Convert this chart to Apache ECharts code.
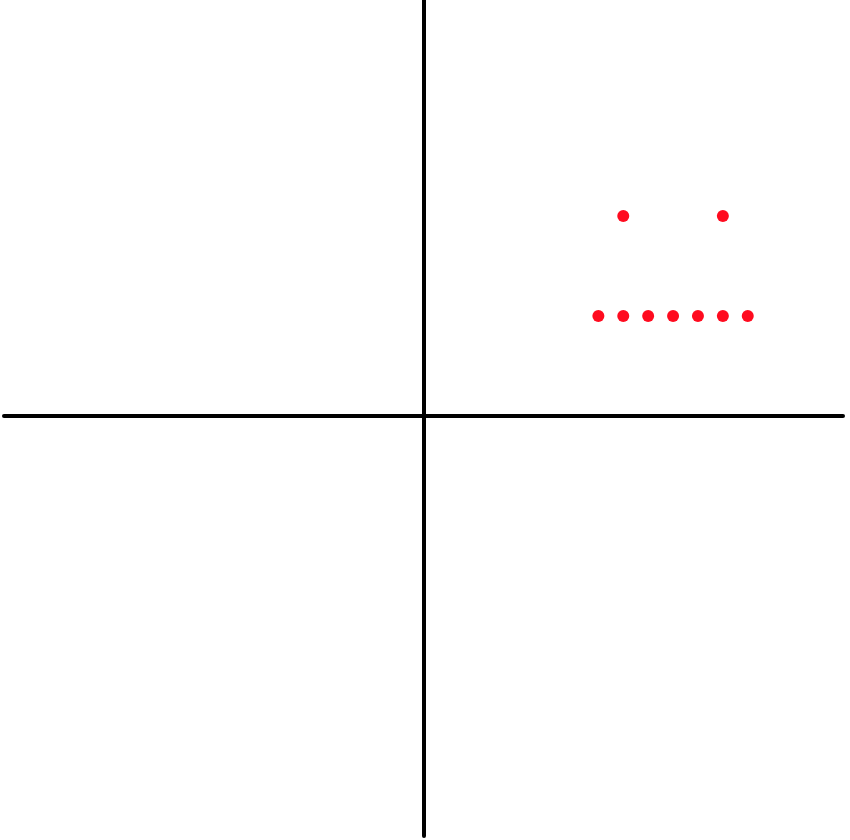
<!DOCTYPE html>
<html>
<head>
<meta charset="utf-8">
<script src="https://cdn.jsdelivr.net/npm/echarts@6/dist/echarts.min.js"></script>
<style>html,body{margin:0;padding:0;background:#fff;}#c{width:850px;height:840px;}</style>
</head>
<body>
<div id="c"></div>
<script>
// Point data (x, y)
const pointX = [7, 8, 9, 10, 11, 12, 13, 8, 12];
const pointY = [4, 4, 4, 4, 4, 4, 4, 8, 8];
// Axis ranges
const xRange = [-16.87, 16.825];
const yRange = [-16.8, 16.64];

const data = pointX.map((x, i) => [x, pointY[i]]);
const chart = echarts.init(document.getElementById('c'), null, {renderer: 'canvas'});
const axisCommon = {
  type: 'value',
  axisLine: {show: true, onZero: true, lineStyle: {color: '#000', width: 4}},
  axisTick: {show: false},
  axisLabel: {show: false},
  splitLine: {show: false}
};
chart.setOption({
  animation: false,
  backgroundColor: '#fff',
  grid: {left: 4, right: 7, top: 0, bottom: 4, containLabel: false},
  xAxis: Object.assign({}, axisCommon, {min: xRange[0], max: xRange[1]}),
  yAxis: Object.assign({}, axisCommon, {min: yRange[0], max: yRange[1]}),
  series: [{
    type: 'scatter',
    data: data,
    symbol: 'circle',
    symbolSize: 12,
    itemStyle: {color: '#ff0b1f', opacity: 1}
  }]
});
</script>
</body>
</html>
